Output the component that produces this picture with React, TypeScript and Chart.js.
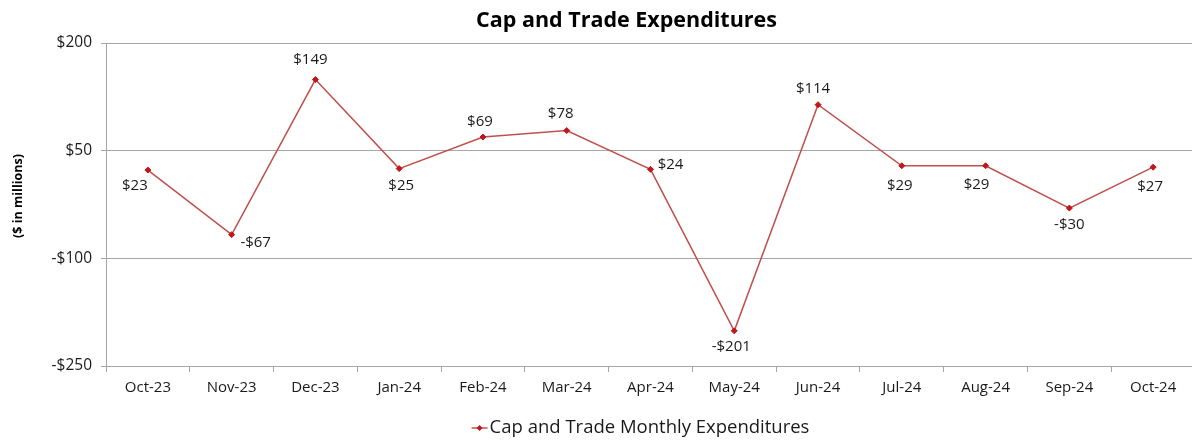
import React, { useEffect, useRef } from "react";
import { Chart, registerables } from "chart.js";

Chart.register(...registerables);

const categories = ["Oct-23", "Nov-23", "Dec-23", "Jan-24", "Feb-24", "Mar-24", "Apr-24", "May-24", "Jun-24", "Jul-24", "Aug-24", "Sep-24", "Oct-24"];
const expenditures = [23, -67, 149, 25, 69, 78, 24, -201, 114, 29, 29, -30, 27];
const yTicks = [-250, -100, 50, 200];
const seriesName = "Cap and Trade Monthly Expenditures";
const chartTitle = "Cap and Trade Expenditures";
const yAxisTitle = "($ in millions)";

// label placement offsets (style only), in px relative to each point
const labelOffsets: [number, number][] = [
  [-13, 16], [24, 8], [-5, -20], [2, 17], [-3, -15], [-6, -17], [20, -5],
  [-3, 16], [-5, -16], [-2, 20], [-9, 19], [0, 17], [-3, 20],
];

const FONT = "'Open Sans', sans-serif";
const LINE = "#c0504d";
const MARK = "#c0161c";
const CANVAS_W = 1200;
const CANVAS_H = 441;

const fmt = (v: number) => (v < 0 ? "-$" + Math.abs(v) : "$" + v);

const decorPlugin = {
  id: "decor",
  afterDatasetsDraw(chart: any) {
    const ctx = chart.ctx;
    const meta = chart.getDatasetMeta(0);
    ctx.save();
    ctx.font = `15px ${FONT}`;
    ctx.fillStyle = "#1a1a1a";
    ctx.textAlign = "center";
    ctx.textBaseline = "middle";
    meta.data.forEach((pt: any, i: number) => {
      const [dx, dy] = labelOffsets[i] || [0, -15];
      ctx.fillText(fmt(expenditures[i]), pt.x + dx, pt.y + dy);
    });
    const ca = chart.chartArea;
    const cx = (ca.left + ca.right) / 2;
    // title
    ctx.font = `bold 21.5px ${FONT}`;
    ctx.fillStyle = "#000";
    ctx.fillText(chartTitle, cx - 24, 21);
    // y axis title
    ctx.save();
    ctx.translate(18, 196);
    ctx.rotate(-Math.PI / 2);
    ctx.font = `bold 12.5px ${FONT}`;
    ctx.fillText(yAxisTitle, 0, 0);
    ctx.restore();
    // legend
    ctx.font = `18.5px ${FONT}`;
    const tw = ctx.measureText(seriesName).width;
    const sym = 18;
    const startX = cx - 10 - (tw + sym) / 2;
    const ly = 428;
    ctx.strokeStyle = LINE;
    ctx.lineWidth = 1.5;
    ctx.beginPath();
    ctx.moveTo(startX, ly);
    ctx.lineTo(startX + sym - 2, ly);
    ctx.stroke();
    ctx.fillStyle = MARK;
    ctx.beginPath();
    const mx = startX + (sym - 2) / 2;
    ctx.moveTo(mx, ly - 3);
    ctx.lineTo(mx + 3, ly);
    ctx.lineTo(mx, ly + 3);
    ctx.lineTo(mx - 3, ly);
    ctx.closePath();
    ctx.fill();
    ctx.fillStyle = "#1a1a1a";
    ctx.textAlign = "left";
    ctx.fillText(seriesName, startX + sym, ly);
    ctx.restore();
  },
};

export default function App() {
  const ref = useRef<HTMLCanvasElement | null>(null);
  useEffect(() => {
    if (!ref.current) return;
    const chart = new Chart(ref.current, {
      type: "line",
      data: {
        labels: categories,
        datasets: [
          {
            label: seriesName,
            data: expenditures,
            borderColor: LINE,
            borderWidth: 1.5,
            pointStyle: "rectRot",
            pointRadius: 3,
            pointBackgroundColor: MARK,
            pointBorderColor: MARK,
            pointBorderWidth: 1,
            tension: 0,
          },
        ],
      },
      options: {
        animation: false,
        responsive: false,
        layout: { padding: { top: 43, right: 2, bottom: 0, left: 0 } },
        plugins: {
          legend: { display: false },
          title: { display: false },
          tooltip: { enabled: false },
        },
        scales: {
          x: {
            type: "category",
            offset: true,
            grid: {
              offset: true,
              drawOnChartArea: false,
              drawTicks: true,
              tickLength: 6,
              color: "#a6a6a6",
            },
            border: { color: "#a6a6a6", width: 1 },
            ticks: {
              font: { family: FONT, size: 15 },
              color: "#1a1a1a",
              padding: 7,
              maxRotation: 0,
              autoSkip: false,
            },
            afterFit(scale: any) {
              scale.height = 75;
            },
          },
          y: {
            min: -250,
            max: 200,
            afterBuildTicks(scale: any) {
              scale.ticks = yTicks.map((v) => ({ value: v }));
            },
            grid: {
              color: "#a6a6a6",
              tickLength: 5,
              lineWidth: 1,
            },
            border: { color: "#a6a6a6", width: 1 },
            ticks: {
              font: { family: FONT, size: 15.5 },
              color: "#1a1a1a",
              padding: 9,
              callback: (v: any) => fmt(Number(v)),
            },
            afterFit(scale: any) {
              scale.width = 106;
            },
          },
        },
      },
      plugins: [decorPlugin],
    } as any);
    return () => chart.destroy();
  }, []);
  return (
    <div style={{ position: "absolute", left: 0, top: 0, width: 1192, height: 441, overflow: "hidden", background: "#fff" }}>
      <canvas ref={ref} width={CANVAS_W} height={CANVAS_H} style={{ width: CANVAS_W, height: CANVAS_H, display: "block" }} />
    </div>
  );
}
